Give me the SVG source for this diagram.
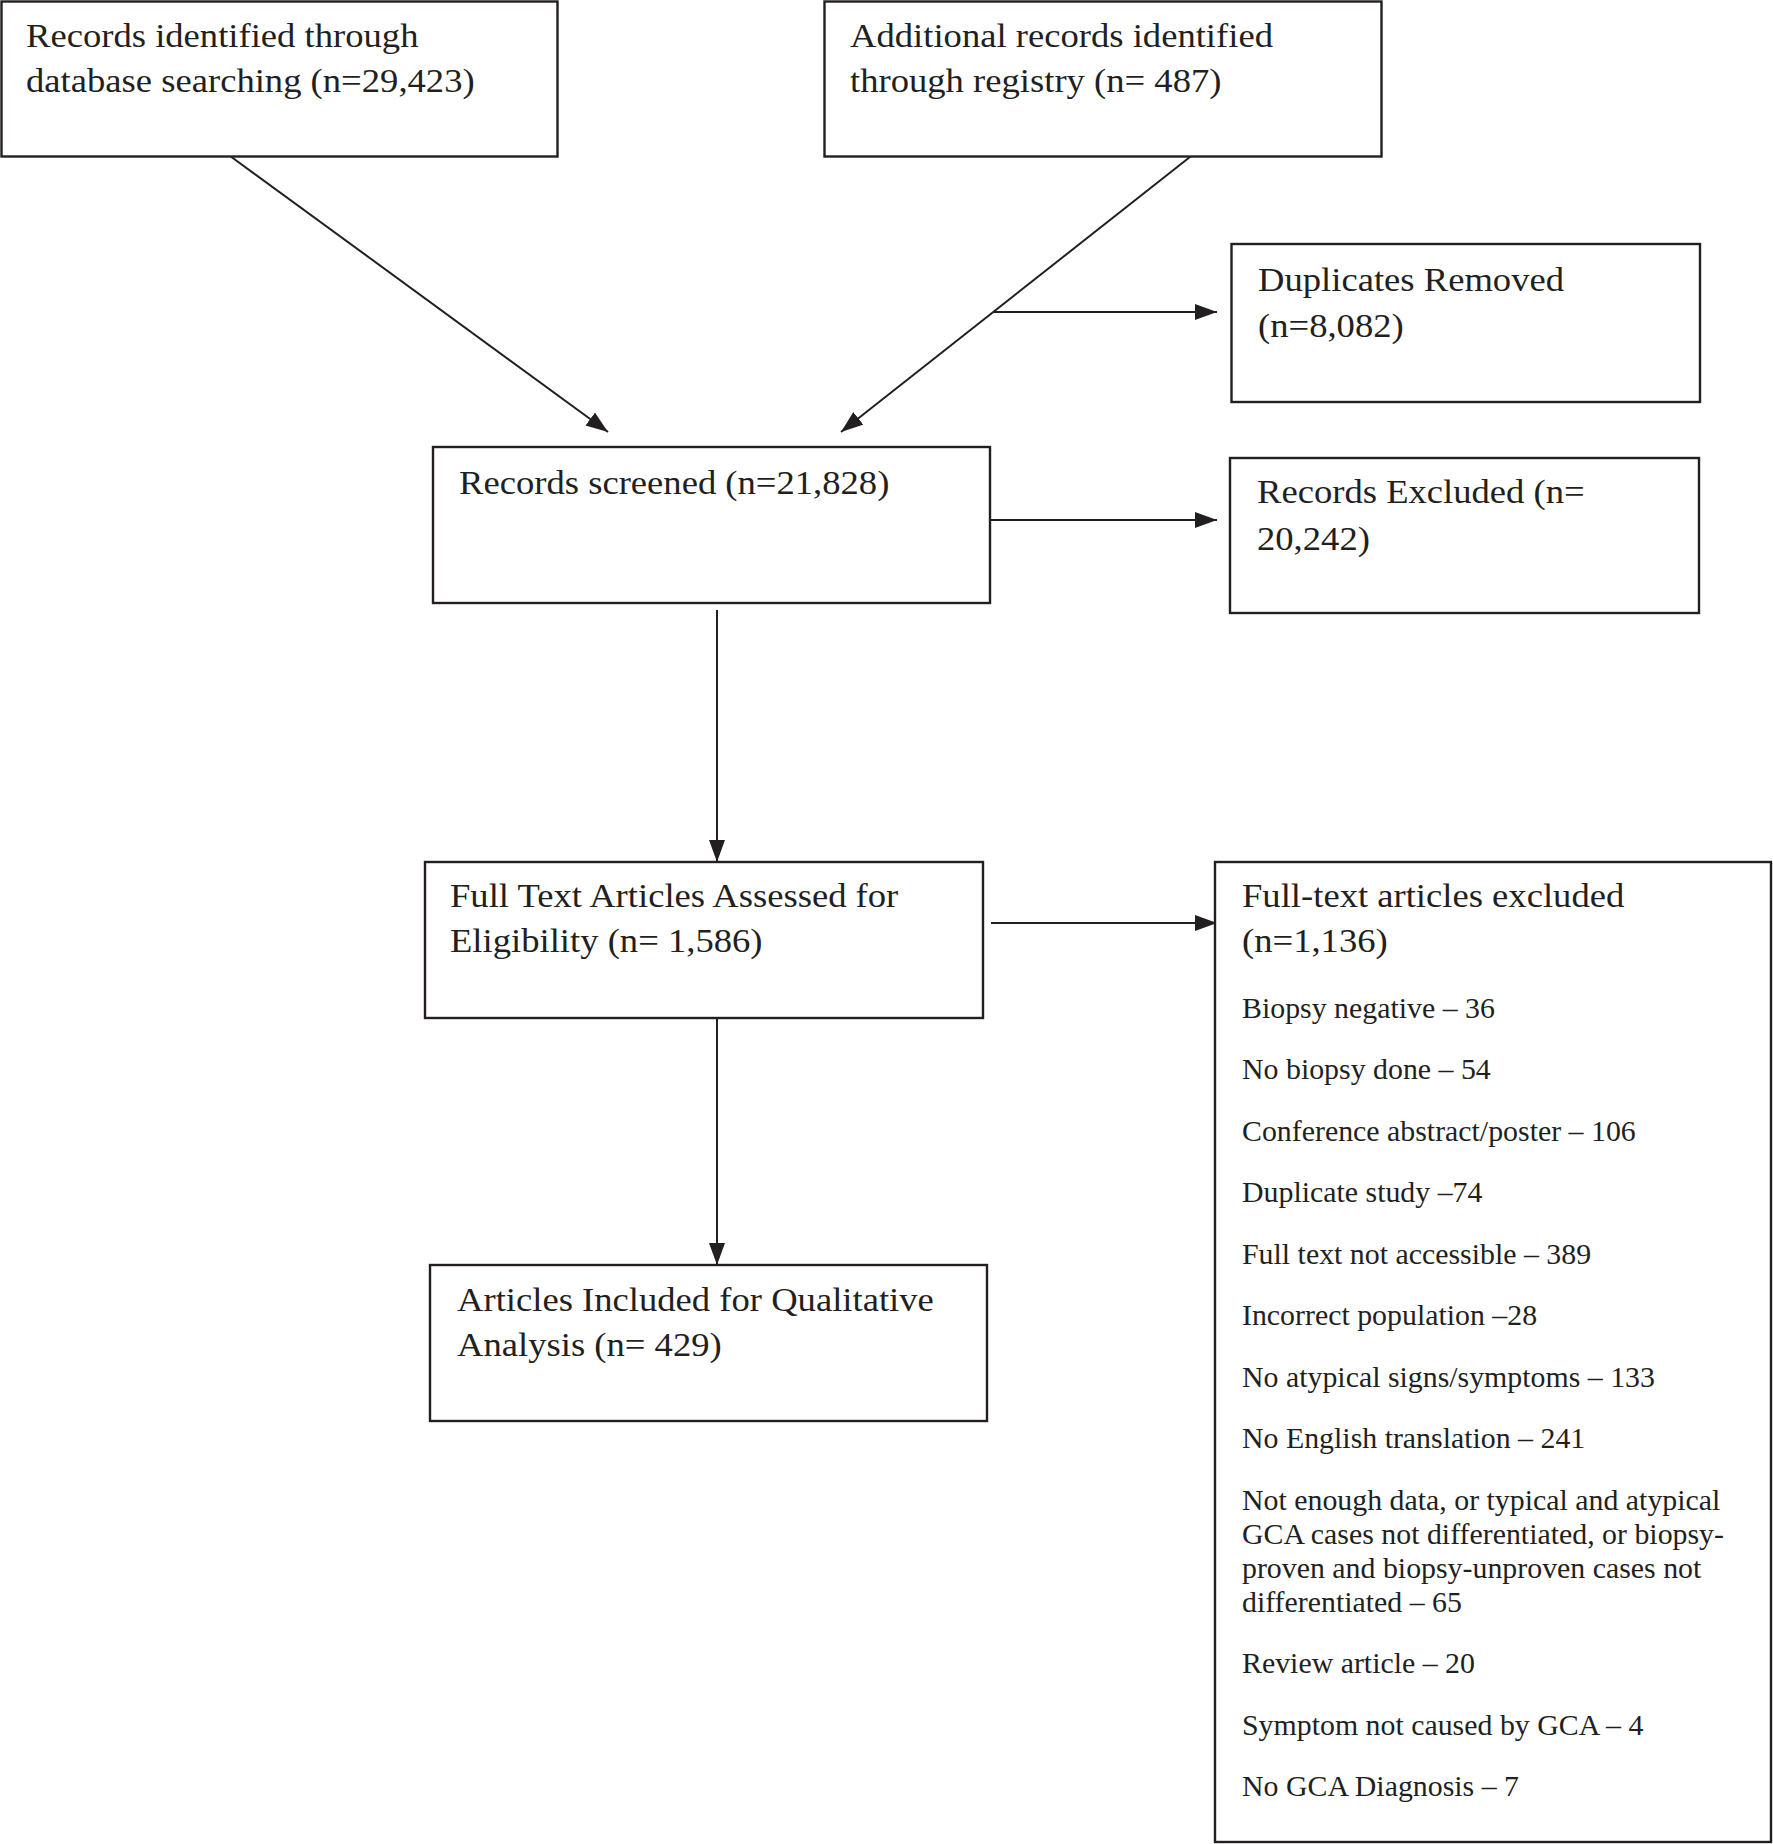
<svg xmlns="http://www.w3.org/2000/svg" width="1773" height="1844" viewBox="0 0 1773 1844">
<style>
  rect.box { fill: #ffffff; stroke: #231f20; stroke-width: 2.4; }
  .conn line { stroke: #231f20; stroke-width: 2; fill: none; }
  text { font-family: "Liberation Serif", "Times New Roman", serif; fill: #231f20; }
  text.t { font-size: 34px; }
  text.s { font-size: 29px; }
</style>
<defs>
  <marker id="arr" markerUnits="userSpaceOnUse" markerWidth="23" markerHeight="17" refX="22" refY="8" orient="auto">
    <path d="M0,0 L22,8 L0,16 Z" fill="#231f20"/>
  </marker>
</defs>
<rect width="1773" height="1844" fill="#ffffff"/>

<g id="conn" class="conn">
  <line x1="226" y1="153" x2="608" y2="432" marker-end="url(#arr)"/>
  <line x1="1195" y1="153" x2="841" y2="432" marker-end="url(#arr)"/>
  <line x1="993" y1="312" x2="1217" y2="312" marker-end="url(#arr)"/>
  <line x1="990" y1="520" x2="1217" y2="520" marker-end="url(#arr)"/>
  <line x1="717" y1="610" x2="717" y2="862" marker-end="url(#arr)"/>
  <line x1="991" y1="923" x2="1217" y2="923" marker-end="url(#arr)"/>
  <line x1="717" y1="1013" x2="717" y2="1265" marker-end="url(#arr)"/>
</g>

<g id="n1">
  <rect class="box" x="1.5" y="1.5" width="556" height="155"/>
  <text class="t" transform="translate(26 47) scale(1.077 1)"><tspan x="0" y="0">Records identified through</tspan><tspan x="0" dy="45">database searching (n=29,423)</tspan></text>
</g>
<g id="n2">
  <rect class="box" x="824.5" y="1.5" width="557" height="155"/>
  <text class="t" transform="translate(850 47) scale(1.077 1)"><tspan x="0" y="0">Additional records identified</tspan><tspan x="0" dy="45">through registry (n= 487)</tspan></text>
</g>
<g id="n3">
  <rect class="box" x="1231.5" y="244" width="468.5" height="158"/>
  <text class="t" transform="translate(1258 291) scale(1.077 1)"><tspan x="0" y="0">Duplicates Removed</tspan><tspan x="0" dy="46">(n=8,082)</tspan></text>
</g>
<g id="n4">
  <rect class="box" x="433" y="447" width="557" height="156"/>
  <text class="t" transform="translate(459 494) scale(1.077 1)">Records screened (n=21,828)</text>
</g>
<g id="n5">
  <rect class="box" x="1230" y="458" width="469" height="155"/>
  <text class="t" transform="translate(1257 503) scale(1.077 1)"><tspan x="0" y="0">Records Excluded (n=</tspan><tspan x="0" dy="47">20,242)</tspan></text>
</g>
<g id="n6">
  <rect class="box" x="425" y="862" width="558" height="156"/>
  <text class="t" transform="translate(450 907) scale(1.077 1)"><tspan x="0" y="0">Full Text Articles Assessed for</tspan><tspan x="0" dy="45">Eligibility (n= 1,586)</tspan></text>
</g>
<g id="n7">
  <rect class="box" x="1215" y="862" width="556" height="980"/>
  <text class="t" transform="translate(1242 907) scale(1.077 1)"><tspan x="0" y="0">Full-text articles excluded</tspan><tspan x="0" dy="45">(n=1,136)</tspan></text>
  <text class="s" transform="translate(1242 0) scale(1.03 1)">
    <tspan x="0" y="1018">Biopsy negative – 36</tspan>
    <tspan x="0" y="1079.5">No biopsy done – 54</tspan>
    <tspan x="0" y="1141">Conference abstract/poster – 106</tspan>
    <tspan x="0" y="1202.5">Duplicate study –74</tspan>
    <tspan x="0" y="1264">Full text not accessible – 389</tspan>
    <tspan x="0" y="1325.5">Incorrect population –28</tspan>
    <tspan x="0" y="1387">No atypical signs/symptoms – 133</tspan>
    <tspan x="0" y="1448.5">No English translation – 241</tspan>
    <tspan x="0" y="1510">Not enough data, or typical and atypical</tspan>
    <tspan x="0" y="1544">GCA cases not differentiated, or biopsy-</tspan>
    <tspan x="0" y="1578">proven and biopsy-unproven cases not</tspan>
    <tspan x="0" y="1612">differentiated – 65</tspan>
    <tspan x="0" y="1673.5">Review article – 20</tspan>
    <tspan x="0" y="1735">Symptom not caused by GCA – 4</tspan>
    <tspan x="0" y="1796.5">No GCA Diagnosis – 7</tspan>
  </text>
</g>
<g id="n8">
  <rect class="box" x="430" y="1265" width="557" height="156"/>
  <text class="t" transform="translate(457 1311) scale(1.077 1)"><tspan x="0" y="0">Articles Included for Qualitative</tspan><tspan x="0" dy="45">Analysis (n= 429)</tspan></text>
</g>
</svg>
